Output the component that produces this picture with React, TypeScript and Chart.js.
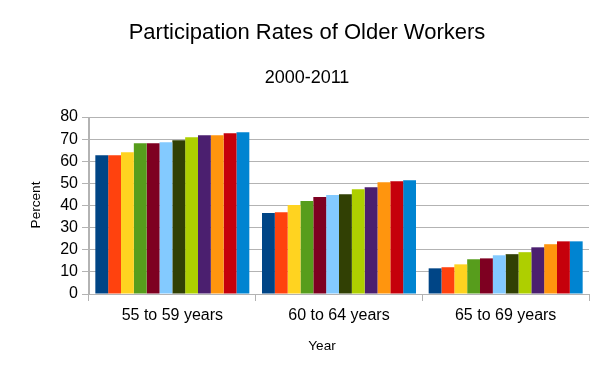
import React, { useEffect, useRef } from "react";
import { Chart, registerables } from "chart.js";

Chart.register(...registerables);

const categories = ["55 to 59 years", "60 to 64 years", "65 to 69 years"];
const years = ["2000", "2001", "2002", "2003", "2004", "2005", "2006", "2007", "2008", "2009", "2010", "2011"];
const age55to59 = [62.7, 62.7, 64.1, 68.1, 68.1, 68.6, 69.5, 70.8, 71.8, 71.8, 72.7, 73.1];
const age60to64 = [36.6, 37.0, 40.2, 42.0, 43.8, 44.7, 45.1, 47.4, 48.3, 50.5, 51.0, 51.4];
const age65to69 = [11.6, 12.1, 13.4, 15.7, 16.1, 17.5, 18.0, 18.9, 21.1, 22.5, 23.8, 23.8];
const colors = ["#004586", "#ff420e", "#ffd320", "#579d1c", "#7e0021", "#83caff", "#314004", "#aecf00", "#4b1f6f", "#ff950e", "#c5000b", "#0084d1"];
const yTicks = [0, 10, 20, 30, 40, 50, 60, 70, 80];

const titleText = "Participation Rates of Older Workers";
const subtitleText = "2000-2011";
const xTitle = "Year";
const yTitle = "Percent";

const FONT = "'Liberation Sans', Arial, sans-serif";
const GRID = "#b3b3b3";

const textPlugin = {
  id: "textPlugin",
  afterDraw(chart: any) {
    const ctx = chart.ctx;
    ctx.save();
    ctx.fillStyle = "#000";
    ctx.textAlign = "center";
    ctx.textBaseline = "alphabetic";
    ctx.font = `22px ${FONT}`;
    ctx.fillText(titleText, 307, 39);
    ctx.font = `18px ${FONT}`;
    ctx.fillText(subtitleText, 307, 83);
    ctx.font = `13.6px ${FONT}`;
    ctx.fillText(xTitle, 322, 350);
    ctx.translate(40, 205);
    ctx.rotate(-Math.PI / 2);
    ctx.fillText(yTitle, 0, 0);
    ctx.restore();
  },
};

export default function App() {
  const ref = useRef<HTMLCanvasElement | null>(null);
  useEffect(() => {
    document.body.style.margin = "0";
    const rows = [age55to59, age60to64, age65to69];
    const datasets = years.map((y, i) => ({
      label: y,
      data: rows.map((r) => r[i]),
      backgroundColor: colors[i],
      borderWidth: 0,
      categoryPercentage: 0.924,
      barPercentage: 1,
    }));
    const chart = new Chart(ref.current as HTMLCanvasElement, {
      type: "bar",
      data: { labels: categories, datasets },
      plugins: [textPlugin],
      options: {
        animation: false,
        responsive: false,
        devicePixelRatio: 1,
        layout: { padding: { top: 117, left: 0, right: 25, bottom: 0 } },
        plugins: { legend: { display: false }, tooltip: { enabled: false }, title: { display: false } },
        scales: {
          x: {
            afterFit: (s: any) => { s.height = 85; },
            grid: {
              offset: true,
              drawOnChartArea: true,
              color: (c: any) => (c.index === 0 || c.index === categories.length ? GRID : "rgba(0,0,0,0)"),
              tickColor: GRID,
              tickLength: 7,
              lineWidth: 1,
            },
            border: { color: GRID },
            ticks: { color: "#000", font: { family: FONT, size: 16 }, padding: 5 },
          },
          y: {
            min: 0,
            max: 80,
            afterFit: (s: any) => { s.width = 89; },
            afterBuildTicks: (s: any) => { s.ticks = yTicks.map((v) => ({ value: v })); },
            grid: { color: GRID, tickColor: GRID, tickLength: 7 },
            border: { color: GRID },
            ticks: { color: "#000", font: { family: FONT, size: 16 }, padding: 4, autoSkip: false, stepSize: 10 },
          },
        },
      },
    });
    return () => chart.destroy();
  }, []);
  return (
    <div style={{ position: "absolute", left: 0, top: 0, width: 614, height: 379 }}>
      <canvas ref={ref} width={614} height={379} style={{ width: 614, height: 379 }} />
    </div>
  );
}
